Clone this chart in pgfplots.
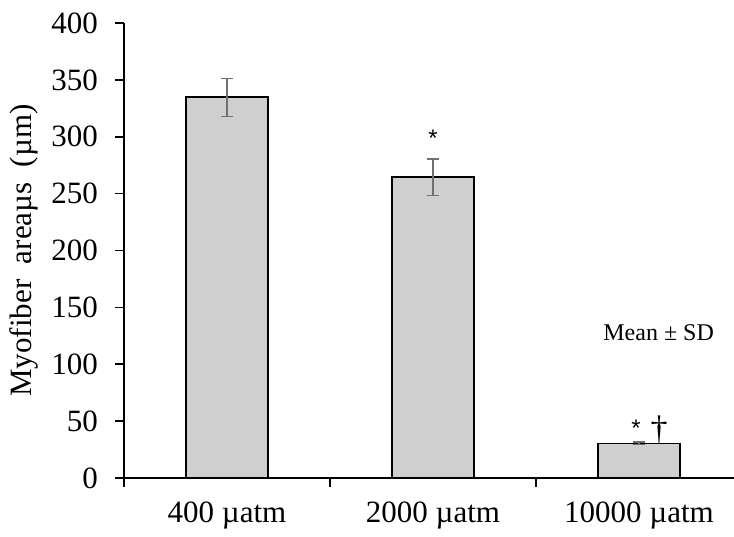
\documentclass[border=0pt]{standalone}
\usepackage{pgfplots}
\pgfplotsset{compat=1.18}
\usepackage{fontspec}
\setmainfont{Liberation Serif}
\newfontfamily\sansf{Liberation Sans}
\definecolor{barfill}{HTML}{D0CFD0}
\definecolor{errgray}{HTML}{707070}
\begin{document}
\begin{tikzpicture}
\begin{axis}[
  scale only axis,
  width=610bp, height=455bp,
  xmin=-0.5, xmax=2.461,
  ymin=0, ymax=400,
  ytick={0,50,...,400},
  xtick={-0.5,0.5,1.5},
  xticklabels={},
  extra x ticks={0,1,2},
  extra x tick labels={400 µatm, 2000 µatm, 10000 µatm},
  extra x tick style={major tick length=0pt, tick style={draw=none},
     xticklabel style={yshift=-20bp}},
  axis x line*=bottom, axis y line*=left,
  axis line style={line width=1.6pt, -},
  tick style={black, line width=1.6pt},
  major tick length=8.5bp,
  tick align=outside,
  yticklabel style={xshift=-14bp},
  tick label style={font=\fontsize{31bp}{35bp}\selectfont},
  /pgf/number format/assume math mode=true,
  ylabel={Myofiber\ \ areaµs\ \ (µm)},
  ylabel style={font=\fontsize{31bp}{35bp}\selectfont, yshift=6bp},
  clip=false,
]
\coordinate (ll) at (rel axis cs:0,0);
\coordinate (ur) at (rel axis cs:1,1);
\addplot[ybar, bar width=0.396, fill=barfill, draw=black, line width=1.6pt,
  error bars/.cd, y dir=both, y explicit,
  error bar style={errgray, line width=1.4pt},
  error mark options={rotate=90, mark size=6bp, errgray, line width=1.4pt}]
coordinates {
  (0,334.7) +- (0,16.7)
  (1,264.5) +- (0,16)
  (2,30.5)  +- (0,1.0)
};
\node[font=\sansf\fontsize{24bp}{26bp}\selectfont] at (axis cs:1,299) {*};
\node[font=\sansf\fontsize{24bp}{26bp}\selectfont] at (axis cs:1.985,44) {*};
\node[font=\fontsize{34bp}{36bp}\selectfont, inner sep=0pt, anchor=south] at (axis cs:2.097,30.5) {†};
\node[font=\fontsize{24bp}{28bp}\selectfont] at (axis cs:2.095,127.5) {Mean ± SD};
\end{axis}
\pgfresetboundingbox
\path ([xshift=-124bp,yshift=-59bp]ll) rectangle ([yshift=23bp]ur);
\end{tikzpicture}
\end{document}
